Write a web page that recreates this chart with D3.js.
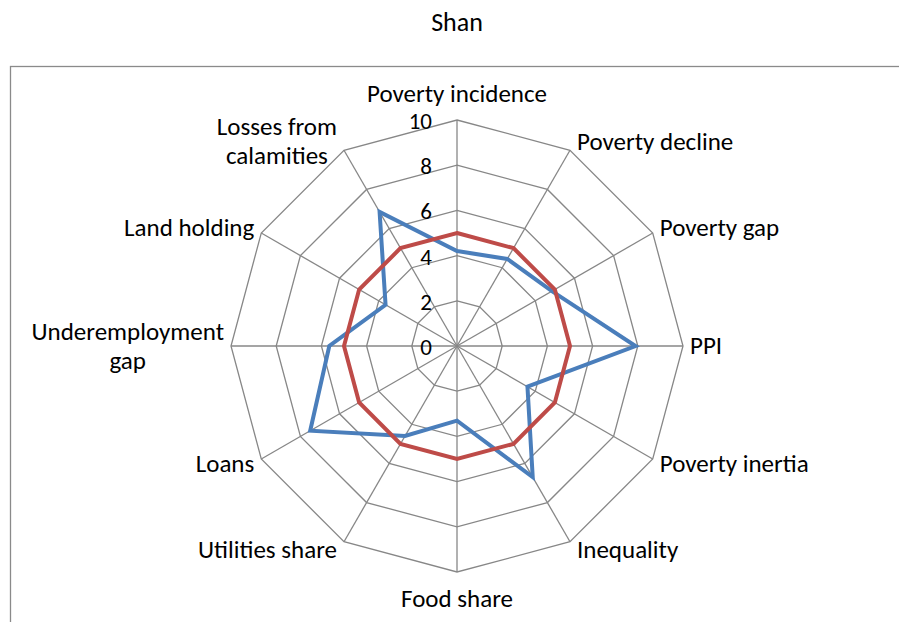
<!DOCTYPE html>
<html>
<head>
<meta charset="utf-8">
<script src="https://cdn.jsdelivr.net/npm/d3@7"></script>
<style>
  html, body { margin: 0; padding: 0; background: #fff; }
  svg { display: block; }
  text { font-family: Calibri, Carlito, "Open Sans", sans-serif; fill: #000; }
</style>
</head>
<body>
<svg id="chart" width="899" height="622"></svg>
<script>
const title = "Shan";
const categories = [
  ["Poverty incidence"], ["Poverty decline"], ["Poverty gap"], ["PPI"],
  ["Poverty inertia"], ["Inequality"], ["Food share"], ["Utilities share"],
  ["Loans"], ["Underemployment", "gap"], ["Land holding"], ["Losses from", "calamities"]
];
const seriesShan = [4.2, 4.45, 4.85, 7.9, 3.6, 6.7, 3.3, 4.6, 7.5, 5.65, 3.65, 6.85];
const seriesReference = [5, 5, 5, 5, 5, 5, 5, 5, 5, 5, 5, 5];
const tickValues = [0, 2, 4, 6, 8, 10];

const W = 899, H = 622;
const cx = 457, cy = 346, R = 226;
const labelSize = 25, tickSize = 23, titleSize = 26;
const gridColor = "#878787";

const svg = d3.select("#chart");

// frame (plot area border, partially visible)
svg.append("rect")
  .attr("x", 10.5).attr("y", 66.5)
  .attr("width", W + 20).attr("height", H)
  .attr("fill", "none").attr("stroke", "#8a8a8a").attr("stroke-width", 1.3);

svg.append("text")
  .attr("x", cx).attr("y", 31)
  .attr("text-anchor", "middle")
  .style("font-size", titleSize + "px")
  .text(title);

const r = d3.scaleLinear().domain([0, 10]).range([0, R]);
const n = categories.length;
const angle = d3.scaleLinear().domain([0, n]).range([0, 2 * Math.PI]);

const g = svg.append("g").attr("transform", `translate(${cx},${cy})`);

// rings
const ringLine = d3.lineRadial()
  .angle((d, i) => angle(i))
  .radius(d => r(d))
  .curve(d3.curveLinearClosed);

tickValues.filter(t => t > 0).forEach(t => {
  g.append("path")
    .attr("d", ringLine(d3.range(n).map(() => t)))
    .attr("fill", "none")
    .attr("stroke", gridColor)
    .attr("stroke-width", 1.3);
});

// spokes
categories.forEach((c, i) => {
  const a = angle(i);
  g.append("line")
    .attr("x1", 0).attr("y1", 0)
    .attr("x2", r(10) * Math.sin(a)).attr("y2", -r(10) * Math.cos(a))
    .attr("stroke", gridColor)
    .attr("stroke-width", 1.3);
});

// tick labels
g.selectAll("text.tick")
  .data(tickValues)
  .join("text")
  .attr("class", "tick")
  .attr("x", -25)
  .attr("y", d => -r(d) + 9)
  .attr("text-anchor", "end")
  .style("font-size", tickSize + "px")
  .text(d => d);

// series
const seriesLine = d3.lineRadial()
  .angle((d, i) => angle(i))
  .radius(d => r(d))
  .curve(d3.curveLinearClosed);

g.append("path")
  .attr("d", seriesLine(seriesShan))
  .attr("fill", "none")
  .attr("stroke", "#4A7EBB")
  .attr("stroke-width", 4)
  .attr("stroke-linejoin", "miter");

g.append("path")
  .attr("d", seriesLine(seriesReference))
  .attr("fill", "none")
  .attr("stroke", "#BE4B48")
  .attr("stroke-width", 4)
  .attr("stroke-linejoin", "miter");

// category labels
const lineH = 29;
categories.forEach((lines, i) => {
  const a = angle(i);
  const s = Math.sin(a), c = Math.cos(a);
  const tx = R * s, ty = -R * c;
  let anchor, x, yc;
  if (Math.abs(s) < 0.01) {
    anchor = "middle";
    x = tx;
    yc = ty + (c > 0 ? -26 : 27);
  } else {
    anchor = s > 0 ? "start" : "end";
    x = tx + (s > 0 ? 7 : -7);
    yc = ty - c * 10;
  }
  const blockOffset = -(lines.length - 1) * lineH / 2;
  const t = g.append("text")
    .attr("text-anchor", lines.length > 1 ? "middle" : anchor)
    .style("font-size", labelSize + "px");
  lines.forEach((ln, k) => {
    t.append("tspan")
      .attr("x", 0)
      .attr("y", yc + blockOffset + k * lineH + 8)
      .text(ln);
  });
  if (lines.length > 1) {
    const w = t.node().getBBox().width;
    const xc = anchor === "end" ? x - w / 2 : anchor === "start" ? x + w / 2 : x;
    t.selectAll("tspan").attr("x", xc);
  } else {
    t.selectAll("tspan").attr("x", x);
  }
});
</script>
</body>
</html>
